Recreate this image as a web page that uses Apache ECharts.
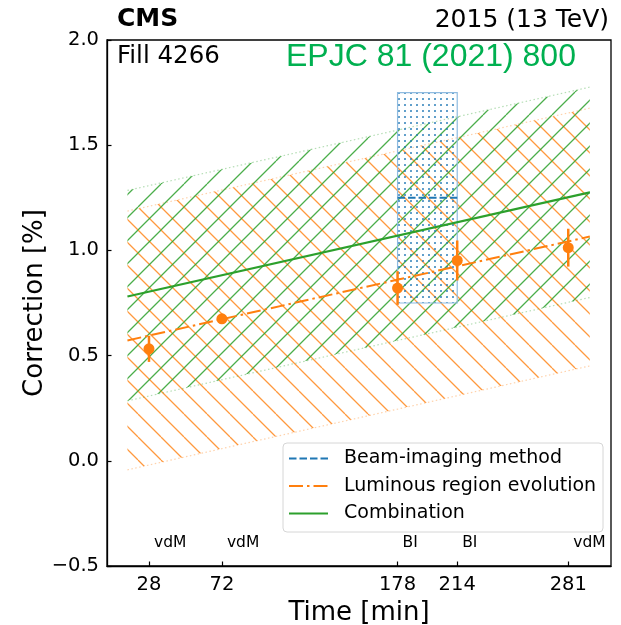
<!DOCTYPE html>
<html><head><meta charset="utf-8">
<script src="https://cdn.jsdelivr.net/npm/echarts@6/dist/echarts.min.js"></script>
<style>html,body{margin:0;padding:0;background:#fff}#c{width:621px;height:625px}</style>
</head><body><div id="c"></div>
<script>
// ---- data ----
const timeTicks = [28, 72, 178, 214, 281];
const scanTimes = [28, 72, 178, 214, 281];
const scanLabels = ['vdM', 'vdM', 'BI', 'BI', 'vdM'];
const lreTimes = [28, 72, 178, 214, 281];
const lreValues = [0.532, 0.675, 0.821, 0.952, 1.013];
const lreErrors = [0.062, 0.02, 0.08, 0.095, 0.09];
const fitTimes = [15, 294];
const lreFit = [0.572, 1.066];
const lreUpper = [1.187, 1.676];
const lreLower = [-0.043, 0.451];
const combFit = [0.781, 1.276];
const combUpper = [1.285, 1.776];
const combLower = [0.285, 0.776];
const biTimes = [178, 214];
const biValue = [1.25, 1.25];
const biUpper = [1.75, 1.75];
const biLower = [0.75, 0.75];
const legendNames = ['Beam-imaging method', 'Luminous region evolution', 'Combination'];

const FONT = '"DejaVu Sans", "Noto Sans", sans-serif';
const BLUE = '#1f77b4', ORANGE = '#ff7f0e', GREEN = '#2ca02c';

function hatch(color, dir, size, lw, alpha) {
  const c = document.createElement('canvas');
  c.width = size; c.height = size;
  const ctx = c.getContext('2d');
  ctx.strokeStyle = color; ctx.globalAlpha = alpha; ctx.lineWidth = lw;
  ctx.beginPath();
  for (let k = -1; k <= 1; k++) {
    if (dir === '/') { ctx.moveTo(k * size, size); ctx.lineTo(k * size + size, 0); }
    else { ctx.moveTo(k * size, 0); ctx.lineTo(k * size + size, size); }
  }
  ctx.stroke();
  return c;
}
function dots(color, w, h, r) {
  const c = document.createElement('canvas');
  c.width = w; c.height = h;
  const ctx = c.getContext('2d');
  ctx.fillStyle = color;
  ctx.beginPath(); ctx.arc(w / 2, h / 2, r, 0, Math.PI * 2); ctx.fill();
  return c;
}
const greenPat = { image: hatch(GREEN, '/', 23, 1.3, 0.85), repeat: 'repeat' };
const orangePat = { image: hatch(ORANGE, '\\', 23, 1.3, 0.8), repeat: 'repeat' };
const bluePat = { image: dots(BLUE, 6, 6, 0.95), repeat: 'repeat' };

function bandSeries(upper, lower, pat, color) {
  return {
    type: 'custom', silent: true, z: 1,
    data: [[fitTimes[0], upper[0]]],
    renderItem: function (params, api) {
      const up = fitTimes.map((t, i) => api.coord([t, upper[i]]));
      const lo = fitTimes.map((t, i) => api.coord([t, lower[i]]));
      const poly = up.concat(lo.slice().reverse());
      return {
        type: 'group', children: [
          { type: 'polygon', shape: { points: poly }, style: { fill: pat, stroke: null } },
          { type: 'polyline', shape: { points: up }, style: { stroke: color, opacity: 0.35, lineWidth: 1.2, lineDash: [1.5, 2.5], fill: null } },
          { type: 'polyline', shape: { points: lo }, style: { stroke: color, opacity: 0.35, lineWidth: 1.2, lineDash: [1.5, 2.5], fill: null } }
        ]
      };
    }
  };
}

// legend drawn as graphic elements (box, line samples, texts)
const legendStyles = [
  { color: BLUE, dash: [7.5, 3] },
  { color: ORANGE, dash: [14, 4, 2.5, 4] },
  { color: GREEN, dash: null }
];
const legendGraphic = [
  { type: 'rect', z: 50, shape: { x: 283, y: 443, width: 320, height: 89, r: 4 },
    style: { fill: 'rgba(255,255,255,0.85)', stroke: '#d6d6d6', lineWidth: 1 } }
];
legendNames.forEach((n, i) => {
  const y = 458.5 + i * 27.5;
  legendGraphic.push({ type: 'line', z: 51, shape: { x1: 289, y1: y, x2: 328, y2: y },
    style: { stroke: legendStyles[i].color, lineWidth: 2, lineDash: legendStyles[i].dash } });
  legendGraphic.push({ type: 'text', z: 51, x: 344, y: y,
    style: { text: n, font: '19px ' + FONT, fill: '#000', verticalAlign: 'middle', textVerticalAlign: 'middle' } });
});

const chart = echarts.init(document.getElementById('c'), null, { renderer: 'canvas' });
chart.setOption({
  animation: false,
  backgroundColor: '#fff',
  grid: { left: 107, right: 10, top: 40, bottom: 59, show: true, borderColor: '#000', borderWidth: 1.3,
    backgroundColor: 'transparent', containLabel: false, outerBoundsMode: 'none' },
  xAxis: {
    type: 'value', min: 2.66, max: 306.8,
    axisLine: { show: true, onZero: false, lineStyle: { color: '#000', width: 1.3 } },
    axisTick: { show: true, inside: true, length: 4.5, lineStyle: { color: '#000', width: 1.2 }, customValues: timeTicks },
    axisLabel: { customValues: timeTicks, fontSize: 19.5, fontFamily: FONT, color: '#000', margin: 9 },
    splitLine: { show: false },
    name: 'Time [min]', nameLocation: 'middle', nameGap: 27,
    nameTextStyle: { fontSize: 26, fontFamily: FONT, color: '#000' }
  },
  yAxis: {
    type: 'value', min: -0.5, max: 2.0, interval: 0.5,
    axisLine: { show: true, onZero: false, lineStyle: { color: '#000', width: 1.3 } },
    axisTick: { show: true, inside: true, length: 4.5, lineStyle: { color: '#000', width: 1.2 } },
    axisLabel: { fontSize: 19.5, fontFamily: FONT, color: '#000', margin: 8,
      formatter: v => v.toFixed(1).replace('-', '\u2212') },
    splitLine: { show: false },
    name: 'Correction [%]', nameLocation: 'middle', nameGap: 59, nameMoveOverlap: false,
    nameTextStyle: { fontSize: 26, fontFamily: FONT, color: '#000' }
  },
  graphic: [
    { type: 'text', x: 117, y: 19.5, style: { text: 'CMS', font: 'bold 25px ' + FONT, fill: '#000', verticalAlign: 'middle', textVerticalAlign: 'middle' } },
    { type: 'text', x: 609, y: 20.5, style: { text: '2015 (13 TeV)', font: '25px ' + FONT, fill: '#000', align: 'right', textAlign: 'right', verticalAlign: 'middle', textVerticalAlign: 'middle' } },
    { type: 'text', x: 117, y: 57, style: { text: 'Fill 4266', font: '24.5px ' + FONT, fill: '#000', verticalAlign: 'middle', textVerticalAlign: 'middle' } },
    { type: 'text', x: 286, y: 57.5, style: { text: 'EPJC 81 (2021) 800', font: '32px "Liberation Sans", Arial, sans-serif', fill: '#00b050', verticalAlign: 'middle', textVerticalAlign: 'middle' } }
  ].concat(legendGraphic),
  series: [
    bandSeries(lreUpper, lreLower, orangePat, ORANGE),
    bandSeries(combUpper, combLower, greenPat, GREEN),
    {
      type: 'custom', silent: true, z: 1,
      data: [[biTimes[0], biUpper[0]]],
      renderItem: function (params, api) {
        const a = api.coord([biTimes[0], biUpper[0]]);
        const b = api.coord([biTimes[1], biLower[1]]);
        return { type: 'rect', shape: { x: a[0], y: a[1], width: b[0] - a[0], height: b[1] - a[1] },
          style: { fill: bluePat, stroke: '#8fbbe0', lineWidth: 1.2 } };
      }
    },
    {
      name: legendNames[0], type: 'line', symbol: 'none', z: 3,
      data: biTimes.map((t, i) => [t, biValue[i]]),
      lineStyle: { color: BLUE, width: 2, type: [7.5, 3] }, itemStyle: { color: BLUE }
    },
    {
      name: legendNames[1], type: 'line', symbol: 'none', z: 3,
      data: fitTimes.map((t, i) => [t, lreFit[i]]),
      lineStyle: { color: ORANGE, width: 2, type: [14, 4, 2.5, 4] }, itemStyle: { color: ORANGE }
    },
    {
      name: legendNames[2], type: 'line', symbol: 'none', z: 3,
      data: fitTimes.map((t, i) => [t, combFit[i]]),
      lineStyle: { color: GREEN, width: 2.2, type: 'solid' }, itemStyle: { color: GREEN }
    },
    {
      type: 'custom', silent: true, z: 4,
      data: lreTimes.map((t, i) => [t, lreValues[i], lreErrors[i]]),
      renderItem: function (params, api) {
        const t = api.value(0), v = api.value(1), e = api.value(2);
        const p1 = api.coord([t, v - e]), p2 = api.coord([t, v + e]);
        return { type: 'line', shape: { x1: p1[0], y1: p1[1], x2: p2[0], y2: p2[1] }, style: { stroke: ORANGE, lineWidth: 2.5 } };
      }
    },
    {
      type: 'scatter', silent: true, z: 5, symbol: 'circle', symbolSize: 11,
      data: lreTimes.map((t, i) => [t, lreValues[i]]),
      itemStyle: { color: ORANGE, opacity: 1 }
    },
    {
      type: 'custom', silent: true, z: 5,
      data: scanTimes.map((t) => [t, -0.392]),
      renderItem: function (params, api) {
        const p = api.coord([api.value(0), api.value(1)]);
        return { type: 'text', x: p[0] + 5, y: p[1],
          style: { text: scanLabels[params.dataIndex], font: '15.5px ' + FONT, fill: '#000',
            verticalAlign: 'middle', textVerticalAlign: 'middle' } };
      }
    }
  ]
});
</script>
</body></html>
